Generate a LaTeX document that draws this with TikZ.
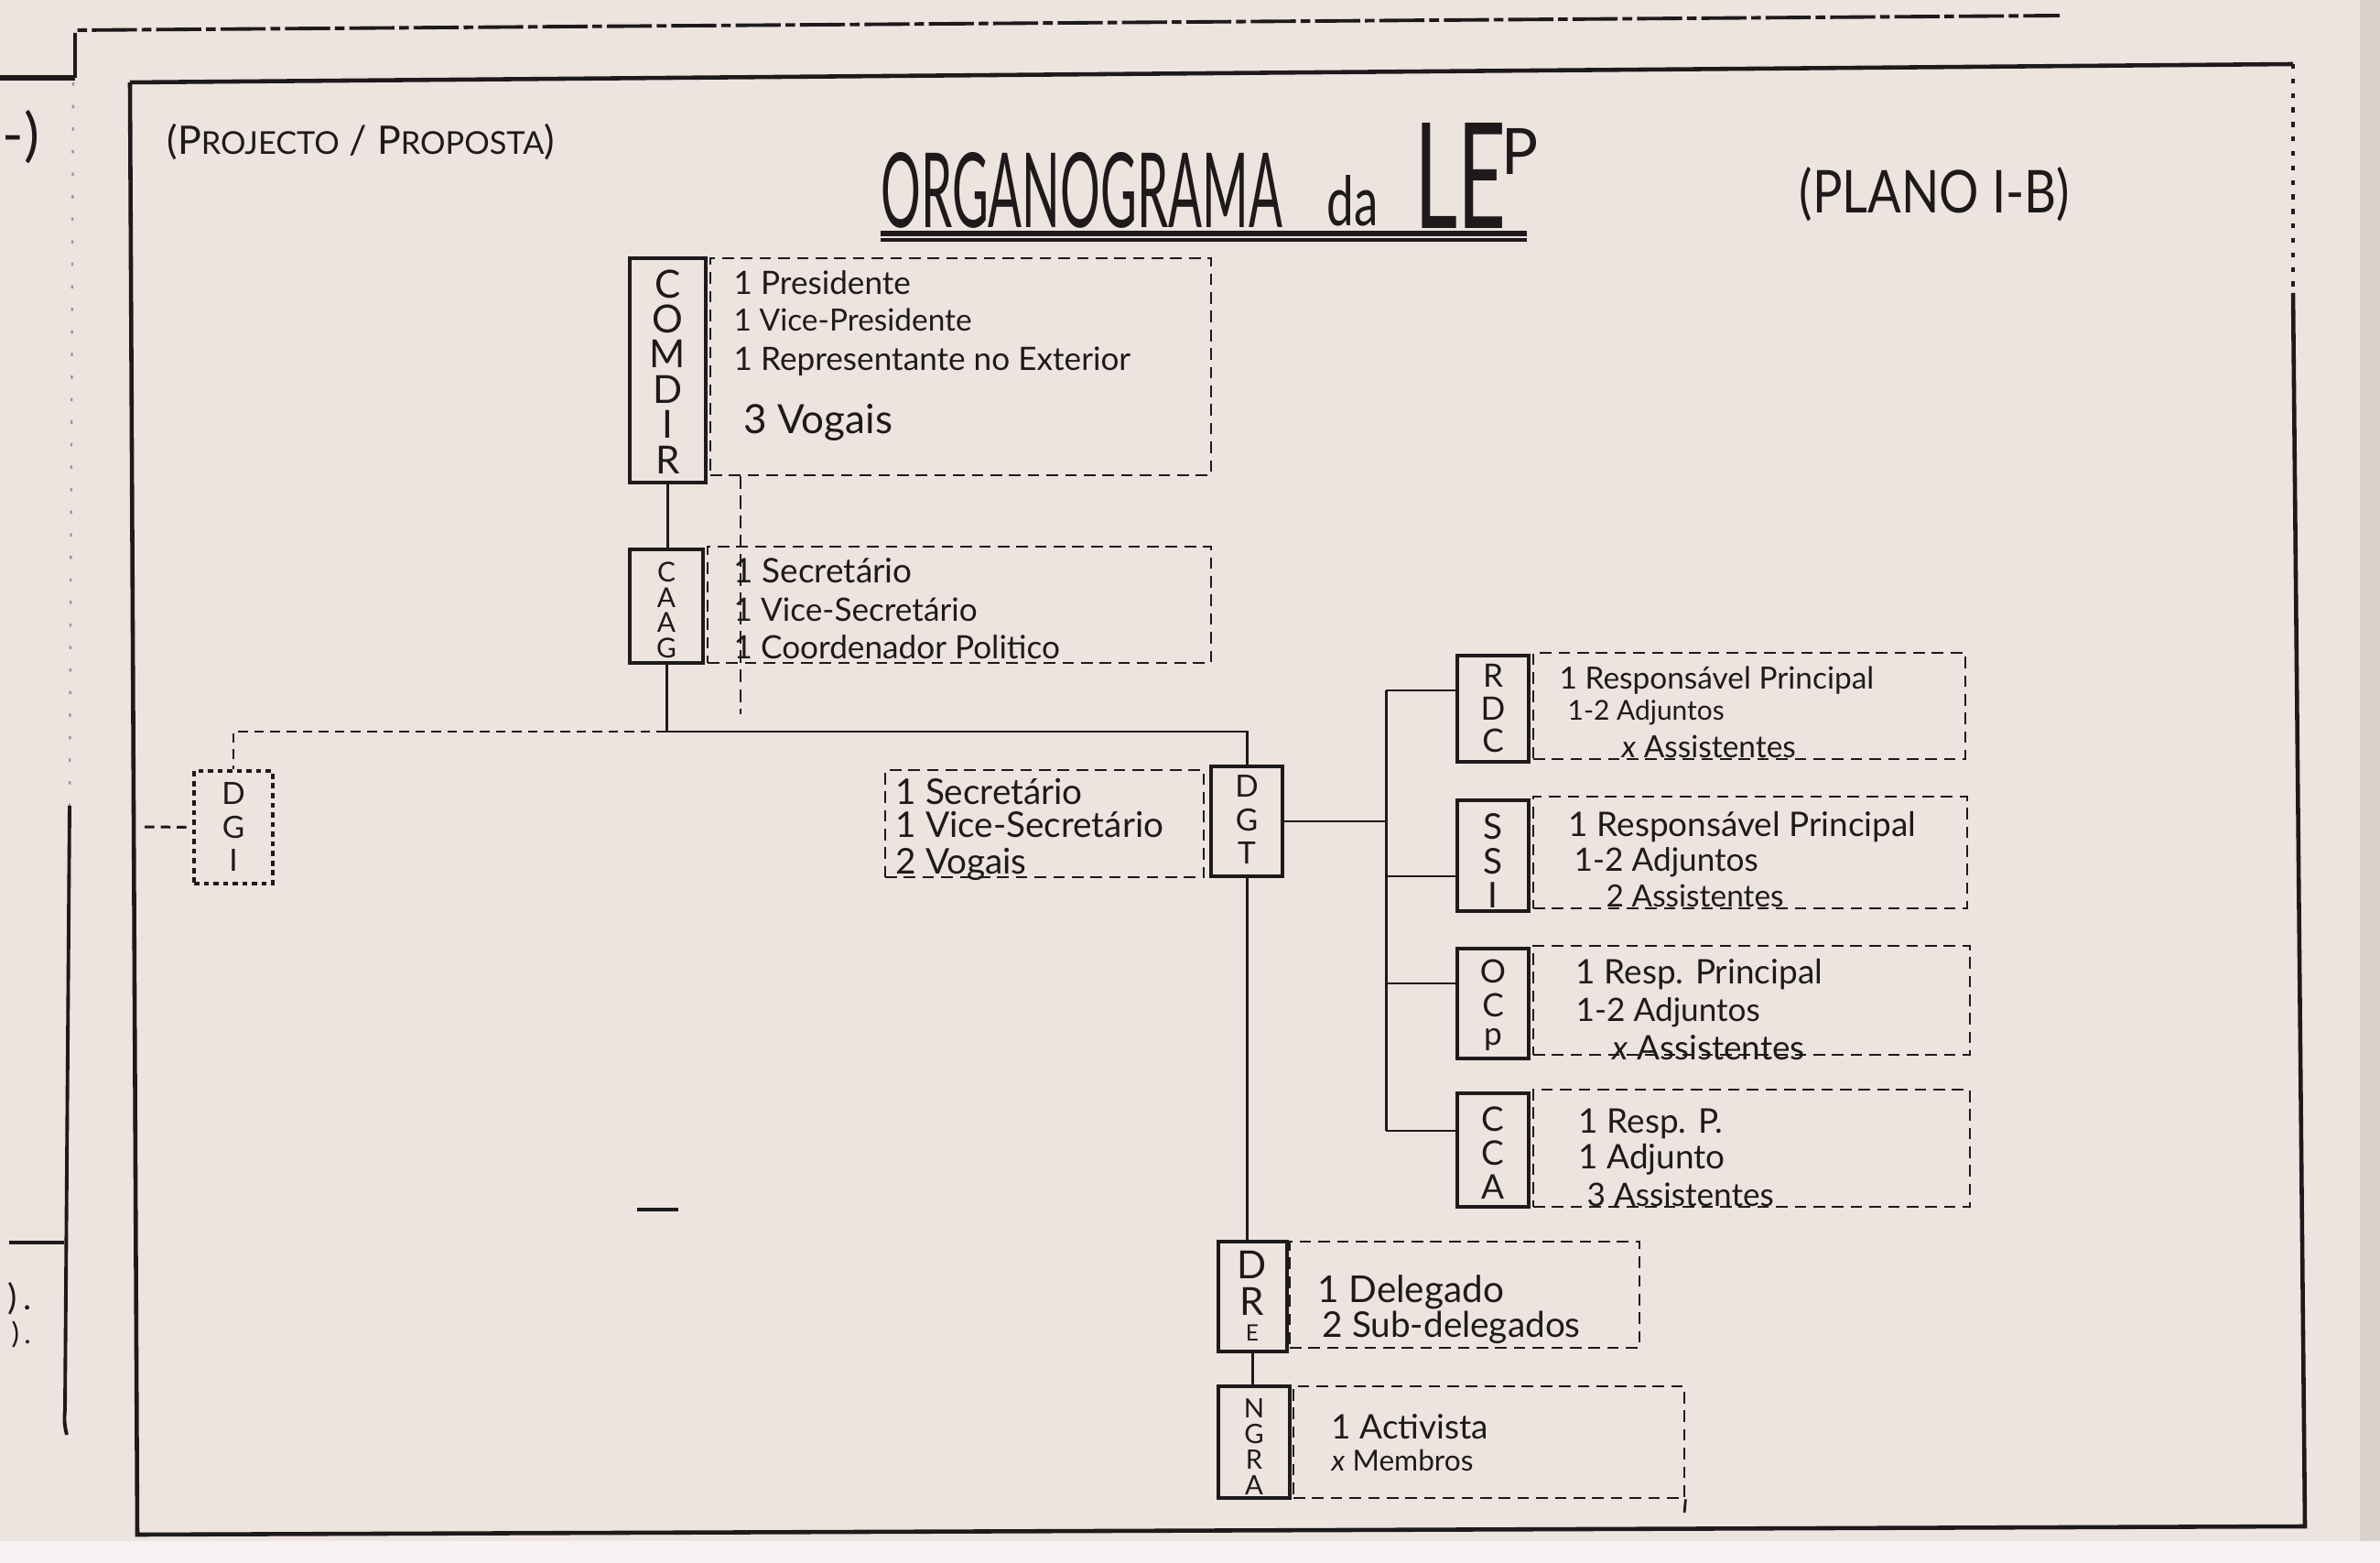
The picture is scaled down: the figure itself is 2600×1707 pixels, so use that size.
\documentclass[tikz,border=0pt]{standalone}
\usepackage{fontspec}
\usepackage{graphicx}
\setmainfont{Lato}
\usetikzlibrary{fit}
\definecolor{paper}{HTML}{EDE3DF}
\definecolor{paperb}{HTML}{F5F2F1}
\definecolor{inkc}{HTML}{1E1A1C}
\tikzset{
  sbox/.style={draw=inkc, line width=1pt, inner sep=0pt},
  dbox/.style={draw=inkc, line width=0.8pt, dash pattern=on 3.6pt off 2.2pt, inner sep=0pt},
  dotbox/.style={draw=inkc, line width=0.9pt, dash pattern=on 1.6pt off 1.4pt, inner sep=0pt},
  letter/.style={inner sep=0pt, text=inkc, anchor=center},
  lbl/.style={anchor=base west, inner sep=0pt, text=inkc},
  conn/.style={draw=inkc, line width=0.85pt},
  dconn/.style={draw=inkc, line width=0.85pt, dash pattern=on 3pt off 2pt},
  frameline/.style={draw=inkc, line width=1.3pt},
  outerline/.style={draw=inkc, line width=1.1pt, dash pattern=on 14pt off 1.5pt on 3pt off 1.5pt},
}
\newcommand{\fs}[1]{\fontsize{#1}{#1}\selectfont}
% \vletters{name}{x}{y first}{step}{size}{list}
\newcommand{\vletters}[6]{%
  \foreach \l [count=\i] in {#6} {%
    \node[letter, font=\fs{#5}] (#1L\i) at ({#2},{#3+(\i-1)*#4}) {\l};
  }%
}
\begin{document}
\begin{tikzpicture}[x=0.01cm,y=-0.01cm]
\useasboundingbox (0,0) rectangle (2600,1707);
\fill[paper] (0,0) rectangle (2600,1707);
\fill[paperb] (0,1683) rectangle (2600,1707);
\fill[paper!92!black] (2578,0) rectangle (2600,1683);

% ---------- frame ----------
\draw[frameline] (142,90) -- (2505,70);
\draw[inkc, line width=0.9pt, dash pattern=on 1.5pt off 3pt] (2505,70) -- (2505,320);
\draw[frameline] (2505,320) -- (2518,1667) -- (150,1676) -- (142,90);
\draw[outerline] (82,85) -- (82,33) -- (2250,17);
\draw[inkc, line width=1.6pt] (0,85) -- (82,85);
\draw[inkc!45, line width=0.7pt, dash pattern=on 1pt off 6pt] (80,90) -- (76,880);
\draw[inkc, line width=1.1pt] (76,880) -- (71,1540) to[bend right=10] (73,1567);
\draw[inkc, line width=1.4pt] (10,1357) -- (70,1357);
\draw[inkc, line width=1pt] (696,1321) -- (741,1321);

% ---------- margin marks and headings ----------
\node[anchor=west, inner sep=0pt, text=inkc] (mleft) at (2,150) {\fs{18}-)};
\node[anchor=west, inner sep=0pt, text=inkc] (mark1) at (8,1418) {\fs{11})\,.};
\node[anchor=west, inner sep=0pt, text=inkc] (mark2) at (12,1458) {\fs{9})\,.};
\node[anchor=west, inner sep=0pt, text=inkc] (proj) at (182,155)
  {\resizebox{4.23cm}{!}{(P{\fs{8}ROJECTO} / P{\fs{8}ROPOSTA})}};
\node[anchor=south west, inner sep=0pt, text=inkc] (tit1) at (962,250)
  {\resizebox{4.38cm}{0.82cm}{ORGANOGRAMA}};
\node[anchor=south west, inner sep=0pt, text=inkc] (tit2) at (1449,248)
  {\resizebox{0.56cm}{0.55cm}{da}};
\node[anchor=south west, inner sep=0pt, text=inkc] (tit3) at (1545,250)
  {\resizebox{1.0cm}{1.15cm}{LE}};
\node[anchor=north west, inner sep=0pt, text=inkc] (tit4) at (1640,140)
  {\resizebox{0.4cm}{0.5cm}{P}};
\draw[inkc, line width=1.6pt] (962,255) -- (1668,255);
\draw[inkc, line width=1pt] (962,262) -- (1668,262);
\node[anchor=west, inner sep=0pt, text=inkc] (plano) at (1965,212)
  {\resizebox{2.95cm}{0.5cm}{(PLANO I-B)}};

% ---------- COMDIR ----------
\node[sbox, fit={(688,282) (771,527)}] (comdir) {};
\vletters{comdir}{729.5}{310}{38.4}{12}{C,O,M,D,I,R}
\node[dbox, fit={(776,282) (1323,519)}] (comdirD) {};
\node[lbl, font=\fs{10}] (c1) at (801,322) {1 Presidente};
\node[lbl, font=\fs{9.5}] (c2) at (801,362) {1 Vice-Presidente};
\node[lbl, font=\fs{10}] (c3) at (801,405) {1 Representante no Exterior};
\node[lbl, font=\fs{12.5}] (c4) at (812,474) {3 Vogais};

% ---------- CAAG ----------
\node[sbox, fit={(688,600) (768,724)}] (caag) {};
\vletters{caag}{728}{625}{27.5}{8.5}{C,A,A,G}
\node[dbox, fit={(773,597) (1323,724)}] (caagD) {};
\node[lbl, font=\fs{10.5}] (a1) at (801,637) {1 Secretário};
\node[lbl, font=\fs{10}] (a2) at (801,679) {1 Vice-Secretário};
\node[lbl, font=\fs{10}] (a3) at (801,720) {1 Coordenador Politico};
\coordinate (dv) at (809,780);
\draw[inkc, line width=0.6pt, dash pattern=on 4pt off 2pt] (dv |- comdirD.south) -- (dv);

% ---------- DGI / DGT ----------
\node[dotbox, fit={(212,842) (298,965)}] (dgi) {};
\vletters{dgi}{255}{867}{36.5}{9.5}{D,G,I}
\node[sbox, fit={(1323,837) (1401,957)}] (dgt) {};
\vletters{dgt}{1362}{859}{36.5}{9.5}{D,G,T}
\node[dbox, fit={(967,841) (1315,958)}] (dgtD) {};
\node[lbl, font=\fs{11}] (g1) at (978,879) {1 Secretário};
\node[lbl, font=\fs{11}] (g2) at (978,915) {1 Vice-Secretário};
\node[lbl, font=\fs{11}] (g3) at (978,955) {2 Vogais};

% ---------- right column ----------
\node[sbox, fit={(1592,716) (1670,832)}] (rdc) {};
\vletters{rdc}{1631}{738}{35.5}{10}{R,D,C}
\node[dbox, fit={(1675,713) (2147,829)}] (rdcD) {};
\node[lbl, font=\fs{9.5}] (r1) at (1703,753) {1 Responsável Principal};
\node[lbl, font=\fs{8.5}] (r2) at (1712,787) {1-2 Adjuntos};
\node[lbl, font=\fs{9.5}] (r3) at (1771,828) {\textit{x} Assistentes};

\node[sbox, fit={(1592,874) (1670,995)}] (ssi) {};
\vletters{ssi}{1631}{903}{37.5}{11}{S,S,I}
\node[dbox, fit={(1675,870) (2149,992)}] (ssiD) {};
\node[lbl, font=\fs{10.5}] (s1) at (1713,913) {1 Responsável Principal};
\node[lbl, font=\fs{10}] (s2) at (1719,952) {1-2 Adjuntos};
\node[lbl, font=\fs{9.5}] (s3) at (1754,991) {2 Assistentes};

\node[sbox, fit={(1592,1036) (1670,1156)}] (ocp) {};
\vletters{ocp}{1631}{1061}{37}{10}{O,C,p}
\node[dbox, fit={(1675,1033) (2152,1152)}] (ocpD) {};
\node[lbl, font=\fs{10.5}] (o1) at (1721,1074) {1 Resp. Principal};
\node[lbl, font=\fs{10}] (o2) at (1721,1115) {1-2 Adjuntos};
\node[lbl, font=\fs{10.5}] (o3) at (1761,1157) {\textit{x} Assistentes};

\node[sbox, fit={(1592,1194) (1670,1318)}] (cca) {};
\vletters{cca}{1631}{1222}{37}{10.5}{C,C,A}
\node[dbox, fit={(1675,1190) (2152,1318)}] (ccaD) {};
\node[lbl, font=\fs{10.5}] (k1) at (1724,1237) {1 Resp. P.};
\node[lbl, font=\fs{10.5}] (k2) at (1724,1276) {1 Adjunto};
\node[lbl, font=\fs{10}] (k3) at (1733,1317) {3 Assistentes};

% ---------- DRE / NGRA ----------
\node[sbox, fit={(1331,1356) (1406,1476)}] (dre) {};
\vletters{dre}{1368}{1381}{40}{12}{D,R}
\node[letter, font=\fs{7}] (dreL3) at (1368,1456) {E};
\node[dbox, fit={(1409,1356) (1791,1472)}] (dreD) {};
\node[lbl, font=\fs{11.5}] (d1) at (1439,1422) {1 Delegado};
\node[lbl, font=\fs{11}] (d2) at (1444,1460) {2 Sub-delegados};

\node[sbox, fit={(1331,1514) (1409,1636)}] (ngra) {};
\vletters{ngra}{1370}{1538}{28}{8.3}{N,G,R,A}
\node[dbox, fit={(1413,1514) (1840,1636)}] (ngraD) {};
\node[lbl, font=\fs{10.5}] (n1) at (1454,1571) {1 Activista};
\node[lbl, font=\fs{9}] (n2) at (1454,1606) {\textit{x} Membros};
\coordinate (ntick) at (1840,1652);
\draw[inkc, line width=0.8pt] (ngraD.south east) -- (ntick);

% ---------- connectors ----------
\draw[conn] (comdir.south) -- (comdir.south |- caag.north);
\coordinate (bus1) at (728,799);
\draw[conn] (caag.south) -- (bus1) -| (dgt.north);
\draw[dconn] (bus1) -| (dgi.north);
\coordinate (dgistub) at (158,903);
\draw[dconn] (dgistub) -- (dgi.west);

\coordinate (rbus) at (1514,897);
\coordinate (rtop) at (1514,754);
\coordinate (bssi) at (1514,957);
\coordinate (bocp) at (1514,1074);
\coordinate (rbot) at (1514,1235);
\draw[conn] (dgt.east) -- (rbus);
\draw[conn] (rtop) -- (rbot);
\draw[conn] (rtop) -- (rtop -| rdc.west);
\draw[conn] (bssi) -- (bssi -| ssi.west);
\draw[conn] (bocp) -- (bocp -| ocp.west);
\draw[conn] (rbot) -- (rbot -| cca.west);

\draw[conn] (dgt.south) -- (dgt.south |- dre.north);
\draw[conn] (dre.south) -- (dre.south |- ngra.north);
\end{tikzpicture}
\end{document}
